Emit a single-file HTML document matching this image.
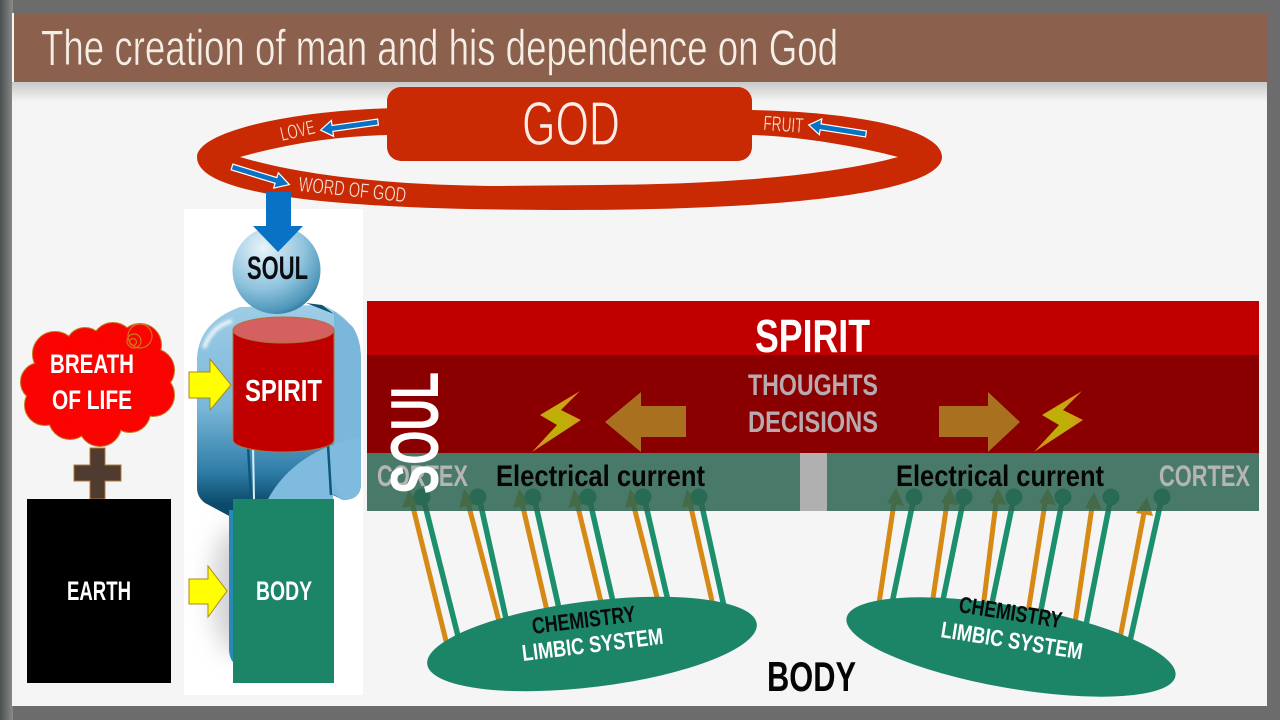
<!DOCTYPE html>
<html><head><meta charset="utf-8"><style>
html,body{margin:0;padding:0;background:#666;width:1280px;height:720px;overflow:hidden}
svg{display:block}
text{font-family:"Liberation Sans",sans-serif;text-anchor:start}
.b{font-weight:700}
</style></head><body>
<svg width="1280" height="720" viewBox="0 0 1280 720" xmlns="http://www.w3.org/2000/svg">
<defs>
<linearGradient id="top" x1="0" y1="0" x2="0" y2="1"><stop offset="0" stop-color="#c9c9c9"/><stop offset="1" stop-color="#f5f5f5"/></linearGradient>
<linearGradient id="lf" x1="0" y1="0" x2="1" y2="0"><stop offset="0" stop-color="#4a4f50"/><stop offset="1" stop-color="#8a8a8a"/></linearGradient>
<radialGradient id="head" cx=".35" cy=".25" r=".85"><stop offset="0" stop-color="#e8f3f9"/><stop offset=".55" stop-color="#8fc3de"/><stop offset=".85" stop-color="#4f97bb"/><stop offset="1" stop-color="#1f6a90"/></radialGradient>
<linearGradient id="bodyg" x1="0" y1="0" x2="0" y2="1"><stop offset="0" stop-color="#9fcde6"/><stop offset=".4" stop-color="#7ab7d8"/><stop offset=".65" stop-color="#2f7ea8"/><stop offset=".78" stop-color="#0b4a6b"/><stop offset="1" stop-color="#0b4a6b"/></linearGradient>
<radialGradient id="bolt" cx=".5" cy=".5" r=".5"><stop offset="0" stop-color="#b8b400"/><stop offset=".6" stop-color="#c8a810"/><stop offset="1" stop-color="#d8901c"/></radialGradient>
<filter id="blur" x="-50%" y="-50%" width="200%" height="200%"><feGaussianBlur stdDeviation="12"/></filter>
<filter id="blur2" x="-50%" y="-50%" width="200%" height="200%"><feGaussianBlur stdDeviation="1.5"/></filter>
<clipPath id="panel"><rect x="184" y="209" width="49" height="486"/></clipPath>
</defs>

<!-- frame -->
<rect width="1280" height="720" fill="#6c6c6c"/>
<rect x="0" y="0" width="13" height="720" fill="url(#lf)"/>
<rect x="12" y="13" width="1255" height="693" fill="#f5f5f5"/>
<rect x="12" y="82" width="1255" height="20" fill="url(#top)"/>
<rect x="14" y="13" width="1254" height="69" fill="#8b604c"/>
<text x="41" y="65" font-size="50" fill="#f5eee6" stroke="#8b604c" stroke-width=".6" textLength="797" lengthAdjust="spacingAndGlyphs">The creation of man and his dependence on God</text>

<!-- figure panel -->
<rect x="184" y="209" width="179" height="486" fill="#ffffff"/>
<g clip-path="url(#panel)"><ellipse cx="238" cy="590" rx="26" ry="65" fill="#d0d0d4" filter="url(#blur)"/></g>

<!-- person -->
<path d="M240,307 L322,305 Q361,320 361,360 L361,485 Q360,500 343,500 L333,495 L333,560 L233,560 L233,518 L205,503 Q197,497 197,488 L197,358 Q199,322 240,307 Z" fill="url(#bodyg)"/>
<path d="M334,311 L352,326 Q361,338 361,360 L361,485 Q360,500 343,500 L329,492 L334,440 Z" fill="#7ab7da"/>
<path d="M268,499 Q295,450 361,437 L361,485 Q360,500 343,500 L333,480 L333,499 Z" fill="#7fbbdf"/>
<path d="M306,303 L322,305 L334,314 Z" fill="#0f4f70"/>
<path d="M204,348 Q212,326 232,321" stroke="#fff" stroke-width="4" fill="none" opacity=".85" filter="url(#blur2)"/>
<path d="M248,445 L251,499" stroke="#0d567c" stroke-width="2.500" fill="none"/>
<path d="M253,445 L254,499" stroke="#d8eef8" stroke-width="2" fill="none"/>
<path d="M328,445 L331,495" stroke="#0d567c" stroke-width="2.500" fill="none"/>
<path d="M229,510 L236,510 L236,664 Q230,662 229,650 Z" fill="#2a88b5"/>
<circle cx="276.500" cy="270" r="44" fill="url(#head)"/>

<!-- ring -->
<path fill-rule="evenodd" fill="#c92a04" d="M197,157 C197,132 290,110 400,108 L750,110 C860,112 942,130 942,157 C942,190 800,210 570,210 C330,210 197,195 197,157 Z M240,157 C290,172 370,185 500,186 L600,185 C760,184 850,170 898,157 C860,147 800,136 750,135 L388,135 C340,136 290,143 240,157 Z"/>
<rect x="387" y="87" width="365" height="74" rx="14" fill="#c92a04"/>
<text x="522" y="145" font-size="62" fill="#fbeee8" stroke="#c92a04" stroke-width="1.200" textLength="98" lengthAdjust="spacingAndGlyphs">GOD</text>

<!-- ring labels -->
<text transform="translate(282,141) rotate(-13)" font-size="20" fill="#f6e4dc" stroke="#c92a04" stroke-width=".4" textLength="35" lengthAdjust="spacingAndGlyphs">LOVE</text>
<text transform="translate(298,191) rotate(6)" font-size="21" fill="#f6e4dc" stroke="#c92a04" stroke-width=".4" textLength="108" lengthAdjust="spacingAndGlyphs">WORD OF GOD</text>
<text transform="translate(763,130) rotate(4)" font-size="21" fill="#f6e4dc" stroke="#c92a04" stroke-width=".4" textLength="40" lengthAdjust="spacingAndGlyphs">FRUIT</text>
<g fill="#0a72c4" stroke="#fff" stroke-width="1.200">
<polygon transform="translate(378,122) rotate(172)" points="0,-3 46,-3 46,-8 58,0 46,8 46,3 0,3"/>
<polygon transform="translate(232,167) rotate(17)" points="0,-3 46,-3 46,-8 60,0 46,8 46,3 0,3"/>
<polygon transform="translate(866,134) rotate(189)" points="0,-3 46,-3 46,-8 58,0 46,8 46,3 0,3"/>
</g>

<!-- down arrow -->
<polygon points="266,192 291,192 291,226 303,226 278,252 253,226 266,226" fill="#0a72c4"/>
<text x="247" y="279" font-size="32" class="b" fill="#0b0b12" textLength="61" lengthAdjust="spacingAndGlyphs">SOUL</text>

<!-- cylinder -->
<path d="M233,330 L233,440 A50.500,12 0 0 0 334,440 L334,330 Z" fill="#c00000" stroke="#b0703a" stroke-width="1"/>
<ellipse cx="283.500" cy="330" rx="50.500" ry="13" fill="#d46060" stroke="#b0703a" stroke-width="1"/>
<text x="245" y="401" font-size="31" class="b" fill="#fff" textLength="77" lengthAdjust="spacingAndGlyphs">SPIRIT</text>

<!-- body -->
<rect x="233" y="499" width="101" height="184" fill="#1c8568"/>
<text x="256" y="600" font-size="27" class="b" fill="#fff" textLength="56" lengthAdjust="spacingAndGlyphs">BODY</text>

<!-- yellow arrows -->
<polygon points="189,372 210,372 210,359 231,385 210,410 210,398 189,398" fill="#ffff00" stroke="#a98a1c" stroke-width="1"/>
<polygon points="189,579 208,579 208,566 227,591 208,617 208,604 189,604" fill="#ffff00" stroke="#a98a1c" stroke-width="1"/>

<!-- cloud -->
<g fill="none" stroke="#c07a20" stroke-width="2">
<circle cx="55" cy="354" r="22"/><circle cx="85" cy="347" r="19"/><circle cx="113" cy="344" r="21"/><circle cx="140" cy="345" r="21"/><circle cx="153" cy="370" r="21"/><circle cx="153" cy="395" r="21"/><circle cx="130" cy="412" r="20"/><circle cx="100" cy="425" r="21"/><circle cx="70" cy="418" r="21"/><circle cx="45" cy="405" r="20"/><circle cx="40" cy="382" r="19"/>
</g>
<g fill="#fb0300">
<circle cx="55" cy="354" r="22"/><circle cx="85" cy="347" r="19"/><circle cx="113" cy="344" r="21"/><circle cx="140" cy="345" r="21"/><circle cx="153" cy="370" r="21"/><circle cx="153" cy="395" r="21"/><circle cx="130" cy="412" r="20"/><circle cx="100" cy="425" r="21"/><circle cx="70" cy="418" r="21"/><circle cx="45" cy="405" r="20"/><circle cx="40" cy="382" r="19"/><circle cx="95" cy="385" r="46"/><circle cx="120" cy="382" r="44"/><circle cx="70" cy="385" r="36"/>
</g>
<g fill="none" stroke="#d0761c" stroke-width="1.200"><circle cx="140" cy="336" r="12"/><circle cx="134" cy="341" r="7"/><circle cx="133" cy="342" r="3.500"/></g>
<text x="50" y="373" font-size="27" class="b" fill="#fff" textLength="84" lengthAdjust="spacingAndGlyphs">BREATH</text>
<text x="52" y="409" font-size="27" class="b" fill="#fff" textLength="80" lengthAdjust="spacingAndGlyphs">OF LIFE</text>

<!-- cross -->
<path d="M90,448 H105 V465 H121 V481 H105 V499 H90 V481 H74 V465 H90 Z" fill="#4f3b2f" stroke="#b07a3a" stroke-width="1"/>

<!-- earth -->
<rect x="27" y="499" width="144" height="184" fill="#000"/>
<text x="67" y="600" font-size="27" class="b" fill="#fff" textLength="64" lengthAdjust="spacingAndGlyphs">EARTH</text>

<!-- connectors -->
<g stroke="#d68a15" stroke-width="5" fill="none">
<line x1="447" y1="645" x2="412" y2="503"/><line x1="500" y1="625" x2="468" y2="503"/><line x1="548" y1="615" x2="522" y2="503"/><line x1="602" y1="606" x2="577" y2="503"/><line x1="659" y1="605" x2="633" y2="503"/><line x1="714" y1="610" x2="690" y2="503"/>
<line x1="878" y1="610" x2="894" y2="503"/><line x1="932" y1="605" x2="947" y2="503"/><line x1="983" y1="608" x2="996" y2="503"/><line x1="1028" y1="613" x2="1045" y2="503"/><line x1="1075" y1="623" x2="1092" y2="507"/><line x1="1120" y1="638" x2="1144" y2="513"/>
</g>
<g stroke="#1c8f6c" stroke-width="5.500" fill="none">
<line x1="459" y1="640" x2="423" y2="497"/><line x1="507" y1="623" x2="479" y2="497"/><line x1="560" y1="613" x2="534" y2="497"/><line x1="614" y1="606" x2="589" y2="497"/><line x1="669" y1="605" x2="644" y2="497"/><line x1="725" y1="611" x2="700" y2="497"/>
<line x1="891" y1="608" x2="914" y2="497"/><line x1="942" y1="605" x2="964" y2="497"/><line x1="991" y1="608" x2="1014" y2="497"/><line x1="1040" y1="615" x2="1063" y2="497"/><line x1="1086" y1="625" x2="1111" y2="497"/><line x1="1130" y1="641" x2="1162" y2="497"/>
</g>
<g fill="#d68a15">
<polygon points="409,490 402,508 419,505"/><polygon points="464,489 459,508 476,504"/><polygon points="519,489 513,508 530,504"/><polygon points="574,489 568,508 585,504"/><polygon points="630,489 625,508 641,504"/><polygon points="687,489 682,508 698,504"/>
<polygon points="896,488 887,503 904,506"/><polygon points="950,487 941,503 958,505"/><polygon points="998,488 990,503 1007,505"/><polygon points="1048,488 1039,503 1056,505"/><polygon points="1094,492 1085,508 1102,510"/><polygon points="1147,497 1136,513 1153,516"/>
</g>
<g fill="#1c8f6c">
<circle cx="422" cy="497" r="8.500"/><circle cx="478" cy="497" r="8.500"/><circle cx="533" cy="497" r="8.500"/><circle cx="588" cy="497" r="8.500"/><circle cx="643" cy="497" r="8.500"/><circle cx="699" cy="497" r="8.500"/>
<circle cx="914" cy="497" r="8.500"/><circle cx="964" cy="497" r="8.500"/><circle cx="1014" cy="497" r="8.500"/><circle cx="1063" cy="497" r="8.500"/><circle cx="1111" cy="497" r="8.500"/><circle cx="1162" cy="497" r="8.500"/>
</g>

<!-- limbic ellipses -->
<ellipse cx="592" cy="644" rx="166" ry="43" transform="rotate(-7 592 644)" fill="#1c8568"/>
<ellipse cx="1011" cy="647" rx="167" ry="41" transform="rotate(10 1011 647)" fill="#1c8568"/>
<text transform="translate(533,634) rotate(-7)" font-size="23" class="b" fill="#0a0a0a" textLength="104" lengthAdjust="spacingAndGlyphs">CHEMISTRY</text>
<text transform="translate(523,661) rotate(-7)" font-size="23" class="b" fill="#fff" textLength="142" lengthAdjust="spacingAndGlyphs">LIMBIC SYSTEM</text>
<text transform="translate(958,612) rotate(9)" font-size="23" class="b" fill="#0a0a0a" textLength="104" lengthAdjust="spacingAndGlyphs">CHEMISTRY</text>
<text transform="translate(940,637) rotate(9)" font-size="23" class="b" fill="#fff" textLength="143" lengthAdjust="spacingAndGlyphs">LIMBIC SYSTEM</text>

<!-- bars -->
<rect x="367" y="301" width="892" height="54" fill="#c00000"/>
<rect x="367" y="355" width="892" height="98" fill="#8a0000"/>
<rect x="367" y="453" width="433" height="58" fill="rgb(42,100,80)" fill-opacity=".85"/>
<rect x="827" y="453" width="432" height="58" fill="rgb(42,100,80)" fill-opacity=".85"/>
<rect x="800" y="453" width="27" height="58" fill="#b0b0b0"/>

<text x="755" y="352" font-size="46" class="b" fill="#fff" textLength="115" lengthAdjust="spacingAndGlyphs">SPIRIT</text>
<text x="748" y="395" font-size="30" class="b" fill="#b9aab0" textLength="130" lengthAdjust="spacingAndGlyphs">THOUGHTS</text>
<text x="748" y="432" font-size="30" class="b" fill="#b9aab0" textLength="130" lengthAdjust="spacingAndGlyphs">DECISIONS</text>

<polygon points="686,406 641,406 641,392 605,422 641,452 641,437 686,437" fill="#a8701f"/>
<polygon points="939,406 988,406 988,392 1020,422 988,452 988,437 939,437" fill="#a8701f"/>
<polygon points="580,391 540,415 557,425 532,452 581,420 561,410" fill="url(#bolt)"/>
<polygon points="1082,391 1042,415 1059,425 1034,452 1083,420 1063,410" fill="url(#bolt)"/>

<text x="377" y="486" font-size="30" class="b" fill="#b5b5b5" textLength="91" lengthAdjust="spacingAndGlyphs">CORTEX</text>
<text x="1159" y="486" font-size="30" class="b" fill="#b5b5b5" textLength="91" lengthAdjust="spacingAndGlyphs">CORTEX</text>
<text x="496" y="486" font-size="30" class="b" fill="#050505" textLength="209" lengthAdjust="spacingAndGlyphs">Electrical current</text>
<text x="896" y="486" font-size="30" class="b" fill="#050505" textLength="208" lengthAdjust="spacingAndGlyphs">Electrical current</text>
<text transform="translate(438,494) rotate(-90)" font-size="68" class="b" fill="#fff" textLength="122" lengthAdjust="spacingAndGlyphs">SOUL</text>
<text x="767" y="691" font-size="42" class="b" fill="#050505" textLength="89" lengthAdjust="spacingAndGlyphs">BODY</text>
</svg>
</body></html>
